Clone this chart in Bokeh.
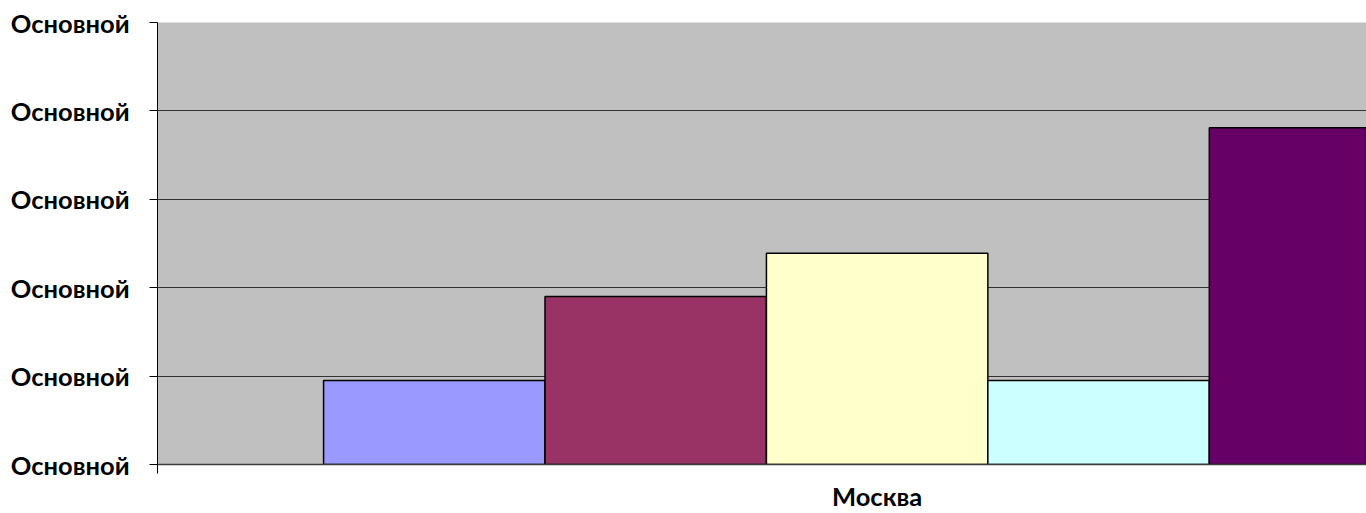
from bokeh.plotting import figure
from bokeh.models import FixedTicker, Range1d, ColumnDataSource
from bokeh.embed import file_html
from bokeh.resources import INLINE

# Data
categories = ["Москва"]
values = [0.95, 1.90, 2.39, 0.95, 3.81]
colors = ["#9999FF", "#993366", "#FFFFCC", "#CCFFFF", "#660066"]
y_ticks = [0, 1, 2, 3, 4, 5]
y_tick_label = "Основной"

# Clustered bars inside one category slot (0..1), Excel-style gap width 150%
gap_width = 1.5
n = len(values)
slot = 1.0 / (n + gap_width)
xs = [(gap_width / 2 + i + 0.5) * slot for i in range(n)]

source = ColumnDataSource(dict(x=xs, top=values, color=colors))

FONT = "Lato"

p = figure(
    width=1366, height=513,
    output_backend="svg", toolbar_location=None,
    x_range=Range1d(0, 0.84), y_range=Range1d(0, 5),
    min_border_left=157, min_border_top=22, min_border_bottom=49, min_border_right=0,
)
p.background_fill_color = "#C0C0C0"
p.border_fill_color = "white"
p.outline_line_color = None

p.vbar(x="x", top="top", bottom=0, width=slot, fill_color="color",
       line_color="black", line_width=1.5, source=source)

# Y axis: every tick carries the same label
yax = p.yaxis[0]
yax.ticker = FixedTicker(ticks=y_ticks)
yax.major_label_overrides = {t: y_tick_label for t in y_ticks}
yax.major_label_text_font = FONT
yax.major_label_text_font_style = "bold"
yax.major_label_text_font_size = "25.5px"
yax.major_label_text_color = "black"
yax.major_tick_out = 8
yax.major_tick_in = 0
yax.minor_tick_out = 0
yax.minor_tick_in = 0
yax.major_label_standoff = 20
yax.axis_line_color = "black"
yax.axis_line_width = 1
yax.major_tick_line_color = "black"

# X axis: category label centred on its slot, boundary ticks at slot edges
xax = p.xaxis[0]
xax.ticker = FixedTicker(ticks=[0.5], minor_ticks=[0.0, 1.0])
xax.major_label_overrides = {0.5: categories[0]}
xax.major_label_text_font = FONT
xax.major_label_text_font_style = "bold"
xax.major_label_text_font_size = "25.5px"
xax.major_label_text_color = "black"
xax.major_tick_out = 0
xax.major_tick_in = 0
xax.minor_tick_out = 9
xax.minor_tick_in = 0
xax.minor_tick_line_color = "black"
xax.major_label_standoff = 7
xax.axis_line_color = "#3a3a3a"
xax.axis_line_width = 1.5

p.xgrid.grid_line_color = None
p.ygrid.grid_line_color = "#333333"
p.ygrid.grid_line_width = 1

open("out.html", "w").write(file_html(p, INLINE))
